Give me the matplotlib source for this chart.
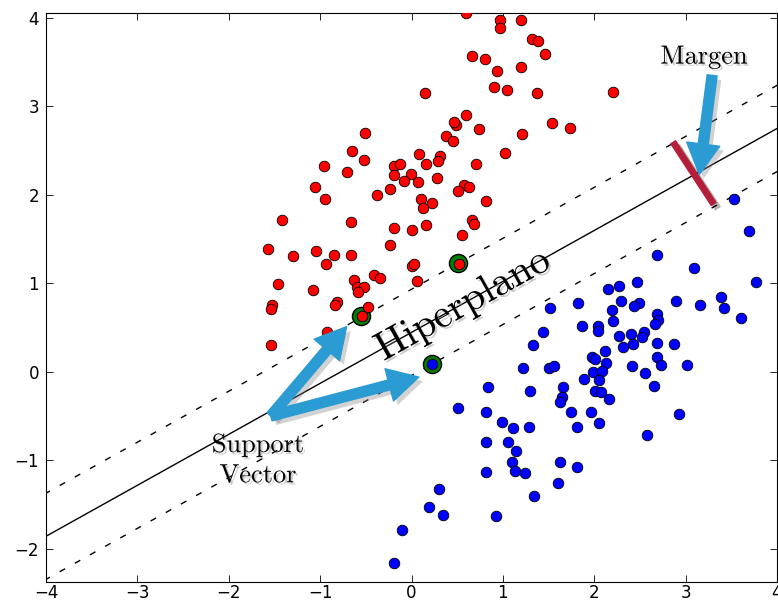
import numpy as np
import matplotlib
matplotlib.use("Agg")
import matplotlib.pyplot as plt
import matplotlib.patheffects as pe
from matplotlib.patches import FancyArrowPatch

# puntos clase roja (x, y)
red_pts = np.array([
    (0.60, 4.06), (0.97, 3.97), (0.97, 3.88), (1.20, 3.97), (1.32, 3.76), (1.38, 3.74),
    (1.46, 3.59), (0.66, 3.57), (0.80, 3.54), (0.94, 3.40), (1.20, 3.44), (0.90, 3.22),
    (1.04, 3.18), (1.37, 3.15), (2.20, 3.16), (0.15, 3.15), (0.60, 2.90), (0.49, 2.79),
    (0.47, 2.82), (0.74, 2.74), (0.38, 2.67), (0.45, 2.61), (1.54, 2.81), (1.73, 2.76),
    (1.21, 2.69), (1.02, 2.47), (0.71, 2.35), (-0.51, 2.70), (-0.65, 2.49), (-0.52, 2.39),
    (0.08, 2.46), (0.31, 2.44), (0.29, 2.38), (0.16, 2.35), (-0.96, 2.33), (-0.71, 2.26),
    (-0.19, 2.32), (-0.13, 2.35), (-0.19, 2.22), (-0.01, 2.24), (0.28, 2.19), (-0.08, 2.16),
    (0.07, 2.14), (-1.06, 2.09), (-0.24, 2.07), (-0.38, 2.00), (-0.95, 1.95), (0.10, 1.95),
    (0.22, 1.91), (0.13, 1.85), (-1.42, 1.72), (-0.66, 1.69), (-0.19, 1.63), (0.00, 1.60),
    (0.16, 1.66), (-0.24, 1.43), (-1.57, 1.39), (-1.30, 1.31), (-1.04, 1.36), (-0.85, 1.32),
    (-0.66, 1.32), (-0.94, 1.22), (0.00, 1.19), (0.03, 1.22), (-1.46, 0.99), (-1.08, 0.92),
    (-0.63, 1.04), (-0.41, 1.09), (-0.34, 1.06), (0.06, 1.03), (-0.60, 0.96), (-0.52, 0.96),
    (-0.59, 0.90), (-1.53, 0.76), (-1.54, 0.71), (-0.81, 0.79), (-0.84, 0.75), (-0.48, 0.73),
    (-0.93, 0.45), (-1.54, 0.30), (0.58, 2.11), (0.63, 2.09), (0.51, 2.04), (0.81, 1.93),
    (0.66, 1.71), (0.68, 1.67), (0.55, 1.55), (-0.54, 0.63), (0.52, 1.22),
])

# puntos clase azul (x, y)
blue_pts = np.array([
    (3.53, 1.95), (3.69, 1.59), (2.69, 1.32), (3.09, 1.17), (3.77, 1.02), (2.47, 1.02),
    (2.27, 0.97), (2.15, 0.94), (1.82, 0.78), (2.29, 0.80), (2.49, 0.78), (2.44, 0.74),
    (2.89, 0.80), (3.16, 0.75), (3.39, 0.84), (3.42, 0.72), (3.61, 0.61), (2.19, 0.70),
    (2.21, 0.57), (2.69, 0.65), (2.70, 0.58), (2.67, 0.54), (1.87, 0.52), (2.04, 0.52),
    (2.04, 0.46), (1.52, 0.72), (1.44, 0.45), (2.27, 0.40), (2.40, 0.43), (2.42, 0.31),
    (2.54, 0.45), (2.52, 0.39), (2.31, 0.28), (2.69, 0.33), (2.87, 0.31), (1.33, 0.30),
    (2.12, 0.23), (1.98, 0.17), (2.01, 0.15), (2.13, 0.10), (2.69, 0.17), (2.73, 0.08),
    (3.01, 0.08), (2.41, 0.06), (2.56, -0.01), (1.22, 0.04), (1.50, 0.04), (1.56, 0.07),
    (1.99, 0.00), (2.09, 0.01), (1.89, -0.08), (2.05, -0.09), (1.66, -0.17), (1.30, -0.22),
    (2.01, -0.22), (2.07, -0.23), (0.84, -0.17), (2.65, -0.16), (1.65, -0.29), (1.63, -0.34),
    (2.16, -0.31), (0.51, -0.41), (0.82, -0.46), (1.75, -0.45), (1.96, -0.46), (2.93, -0.48),
    (0.99, -0.57), (1.11, -0.64), (1.29, -0.62), (1.81, -0.62), (2.05, -0.58), (2.58, -0.72),
    (0.82, -0.79), (1.06, -0.79), (1.14, -0.90), (1.10, -1.02), (1.13, -1.12), (1.24, -1.14),
    (0.81, -1.13), (1.62, -1.02), (1.81, -1.08), (1.60, -1.26), (1.34, -1.40), (0.30, -1.32),
    (0.19, -1.53), (0.34, -1.62), (0.92, -1.63), (-0.10, -1.79), (-0.19, -2.16), (0.22, 0.085),
])

# vectores de soporte
sv_pts = np.array([(-0.55, 0.63), (0.51, 1.23), (0.22, 0.085)])

# hiperplano y margen
slope = 0.576
intercept = 0.445
margin = 0.487

fig = plt.figure(figsize=(7.78, 6.05), dpi=100, facecolor="white")
ax = fig.add_axes([46 / 778, 23.5 / 605, 731 / 778, 569 / 605])

xx = np.linspace(-5, 5, 20)
yy = slope * xx + intercept
ax.plot(xx, yy, "k-", lw=1)
ax.plot(xx, yy + margin, "k--", lw=1, dashes=(4.5, 8))
ax.plot(xx, yy - margin, "k--", lw=1, dashes=(4.5, 8))

ax.scatter(sv_pts[:, 0], sv_pts[:, 1], s=170, c="g", edgecolors="k", linewidths=1, zorder=3)
ax.scatter(red_pts[:, 0], red_pts[:, 1], s=58, c="r", edgecolors="k", linewidths=0.6, zorder=4)
ax.scatter(blue_pts[:, 0], blue_pts[:, 1], s=58, c="b", edgecolors="k", linewidths=0.6, zorder=4)

ax.set_xlim(-4, 4)
ax.set_ylim(-2.37, 4.06)
ax.set_xticks(range(-4, 5))
ax.set_yticks(range(-2, 5))
ax.tick_params(direction="in", top=True, right=True, length=5, width=0.6, labelsize=12, pad=5)
ax.tick_params(axis="x", pad=2)

shadow = [pe.SimplePatchShadow(offset=(3, -3), shadow_rgbFace="gray", alpha=0.35), pe.Normal()]
blue_arrow = "#2b9bd3"
arr_style = "simple,head_length=1.1,head_width=1.2,tail_width=0.36"

# flechas Support Vector
for tip in [(-0.71, 0.51), (0.08, -0.06)]:
    a = FancyArrowPatch((-1.54, -0.50), tip, arrowstyle=arr_style, mutation_scale=20,
                        color=blue_arrow, shrinkA=0, shrinkB=0, zorder=6)
    a.set_path_effects(shadow)
    ax.add_patch(a)

# flecha Margen
a = FancyArrowPatch((3.29, 3.35), (3.15, 2.23), arrowstyle=arr_style, mutation_scale=20,
                    color=blue_arrow, shrinkA=0, shrinkB=0, zorder=6)
a.set_path_effects(shadow)
ax.add_patch(a)

# barra del margen
ax.plot([2.86, 3.31], [2.60, 1.89], color="#b51f3a", lw=5, solid_capstyle="butt", zorder=5,
        path_effects=[pe.SimpleLineShadow(offset=(3, -3), alpha=0.3), pe.Normal()])

txt_shadow = [pe.withSimplePatchShadow(offset=(1.5, -1.5), shadow_rgbFace="gray", alpha=0.4)]
ang = np.degrees(np.arctan(slope))
ax.text(0.62, slope * 0.62 + intercept - 0.15, "Hiperplano", fontfamily="cmr10", fontsize=29,
        rotation=ang, transform_rotates_text=True, rotation_mode="anchor",
        ha="center", va="baseline", zorder=7, path_effects=txt_shadow)
ax.text(-1.68, -1.0, "Support\nVector", fontfamily="cmr10", fontsize=19, ha="center", va="center",
        linespacing=1.35, zorder=7, path_effects=txt_shadow)
ax.text(3.20, 3.56, "Margen", fontfamily="cmr10", fontsize=19, ha="center", va="center",
        zorder=7, path_effects=txt_shadow)

fig.savefig("out.png", dpi=100, facecolor="white")
